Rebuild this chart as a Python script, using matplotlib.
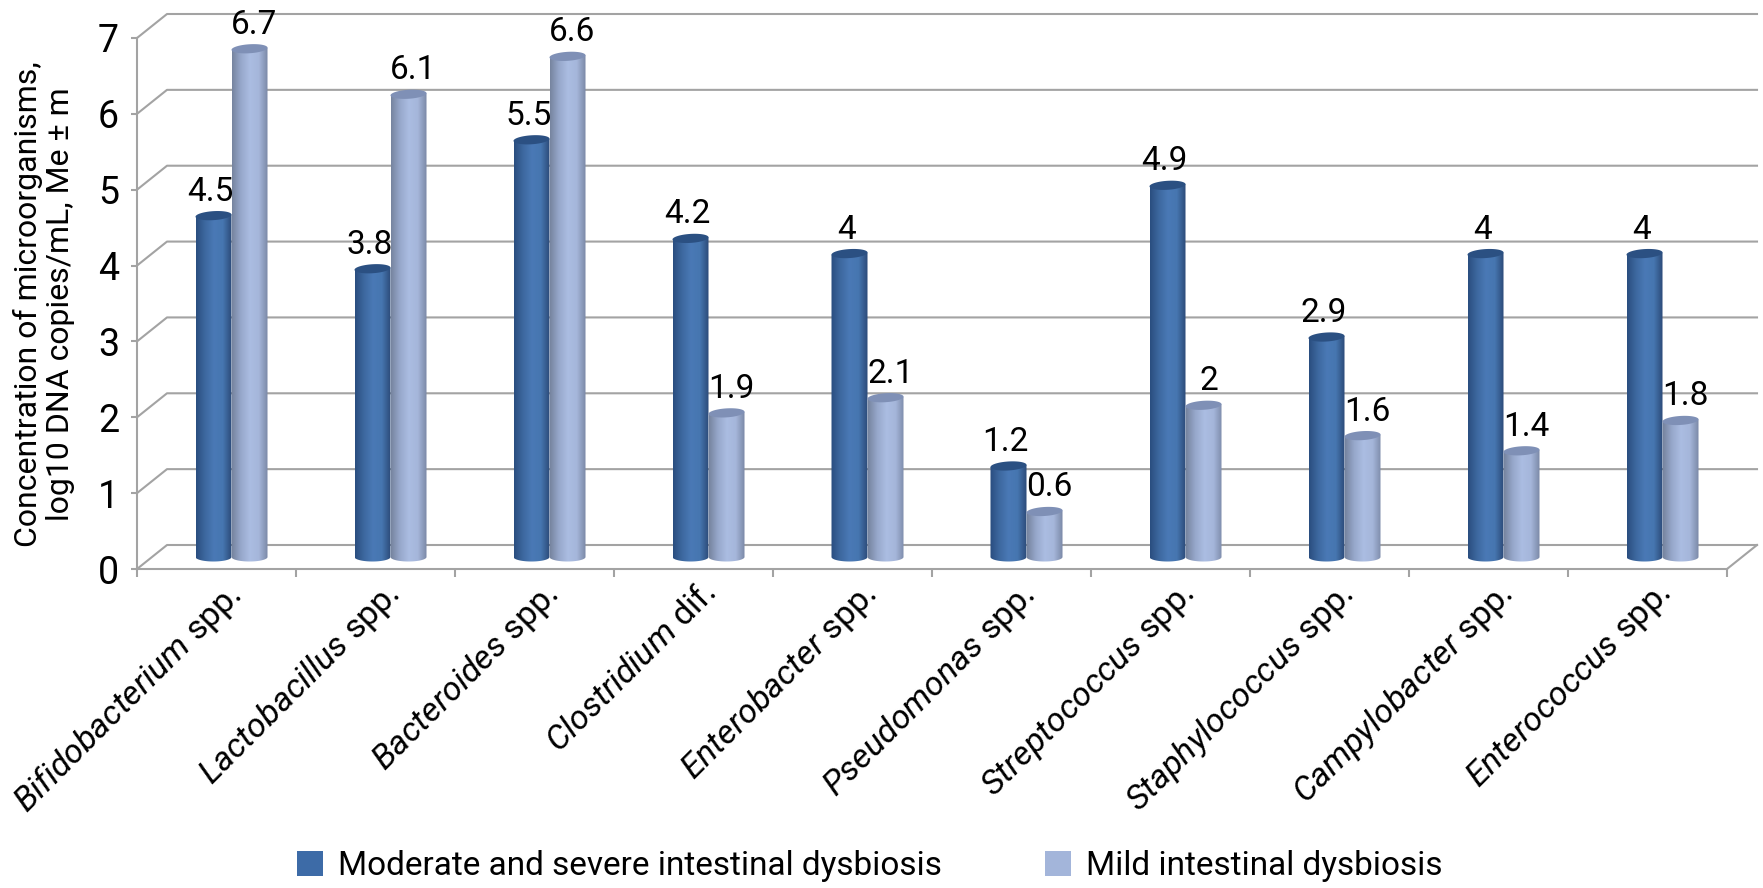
import numpy as np
import matplotlib
matplotlib.use('Agg')
import matplotlib.pyplot as plt
from matplotlib.colors import LinearSegmentedColormap
from matplotlib.patches import Polygon, Patch

categories = ['Bifidobacterium', 'Lactobacillus', 'Bacteroides', 'Clostridium', 'Enterobacter',
              'Pseudomonas', 'Streptococcus', 'Staphylococcus', 'Campylobacter', 'Enterococcus']
suffixes = ['spp.', 'spp.', 'spp.', 'dif.', 'spp.', 'spp.', 'spp.', 'spp.', 'spp.', 'spp.']
moderate = [4.5, 3.8, 5.5, 4.2, 4, 1.2, 4.9, 2.9, 4, 4]
mild = [6.7, 6.1, 6.6, 1.9, 2.1, 0.6, 2, 1.6, 1.4, 1.8]
moderate_labels = ['4.5', '3.8', '5.5', '4.2', '4', '1.2', '4.9', '2.9', '4', '4']
mild_labels = ['6.7', '6.1', '6.6', '1.9', '2.1', '0.6', '2', '1.6', '1.4', '1.8']
yticks = [0, 1, 2, 3, 4, 5, 6, 7]
series_names = ['Moderate and severe intestinal dysbiosis', 'Mild intestinal dysbiosis']

font = 'Roboto'
plt.rcParams['font.family'] = [font, 'DejaVu Sans']
plt.rcParams['mathtext.fontset'] = 'custom'
plt.rcParams['mathtext.it'] = font + ':italic'
plt.rcParams['mathtext.rm'] = font

GRID = '#a3a3a3'
W, H = 1763, 888
fig = plt.figure(figsize=(W / 100, H / 100), dpi=100, facecolor='white')
ax = fig.add_axes([137 / W, (H - 569) / H, 1590 / W, 531 / H])
ax.set_xlim(0, 10)
ax.set_ylim(0, 7)

# one category is 159 px wide, one unit on y is 75.9 px
px_x = 10 / 1590
px_y = 7 / 531
depth_x = 30 * px_x
depth_y = 24 * px_y

# walls of the fake 3d box
for v in yticks:
    ax.plot([0, depth_x, 10 + depth_x], [v, v + depth_y, v + depth_y],
            color=GRID, lw=1.5, clip_on=False, zorder=1)
ax.plot([10, 10 + depth_x], [0, depth_y], color=GRID, lw=1.5, clip_on=False, zorder=1)

dark_cmap = LinearSegmentedColormap.from_list('dark', ['#2a4d7f', '#3d689f', '#4a79b6', '#4676b0', '#2c4a78'])
light_cmap = LinearSegmentedColormap.from_list('light', ['#76849f', '#97a8cb', '#abbde2', '#a5b6da', '#7a88a6'])
gradient = np.linspace(0, 1, 128).reshape(1, -1)

bar_w = 36 * px_x
ell_a = bar_w / 2
ell_b = 4.5 * px_y
tilt = 0.06 * px_y / px_x
t = np.linspace(0, 2 * np.pi, 80)


def cylinder(center, value, cmap, top_color):
    x0 = center - ell_a
    x1 = center + ell_a
    base = depth_y / 2
    top = value + depth_y / 2
    ts = np.linspace(np.pi, 2 * np.pi, 40)
    outline = np.vstack([
        np.column_stack([center + ell_a * np.cos(ts), base + ell_b * np.sin(ts)]),
        [[x1, top + tilt * ell_a], [x0, top - tilt * ell_a]],
    ])
    im = ax.imshow(gradient, extent=[x0, x1, -0.2, top + 0.2], aspect='auto', cmap=cmap, zorder=3)
    clip = Polygon(outline, closed=True, transform=ax.transData)
    im.set_clip_path(clip)
    im.set_clip_on(True)
    cap = np.column_stack([center + ell_a * np.cos(t),
                           top + ell_b * np.sin(t) + tilt * ell_a * np.cos(t)])
    ax.add_patch(Polygon(cap, closed=True, facecolor=top_color, edgecolor='none', zorder=3.5, clip_on=False))


for i in range(len(categories)):
    center = i + 0.5 + depth_x / 2
    dark_x = center - bar_w / 2
    light_x = center + bar_w / 2
    cylinder(dark_x, moderate[i], dark_cmap, '#2b5082')
    cylinder(light_x, mild[i], light_cmap, '#7f90b6')
    ax.text(dark_x - 3 * px_x, moderate[i] + depth_y / 2 + 8 * px_y, moderate_labels[i],
            ha='center', va='bottom', fontsize=24, color='black', zorder=5, clip_on=False)
    ax.text(light_x + 5 * px_x, mild[i] + depth_y / 2 + 8 * px_y, mild_labels[i],
            ha='center', va='bottom', fontsize=24, color='black', zorder=5, clip_on=False)

ax.set_xlim(0, 10)
ax.set_ylim(0, 7)

for side in ['top', 'right']:
    ax.spines[side].set_visible(False)
for side in ['left', 'bottom']:
    ax.spines[side].set_color(GRID)
    ax.spines[side].set_linewidth(1.5)
    ax.spines[side].set_zorder(2)

ax.set_yticks(yticks)
ax.tick_params(axis='y', length=4, width=1.5, color=GRID, labelsize=27, pad=9)
ax.set_xticks(range(11))
ax.set_xticklabels([])
ax.tick_params(axis='x', which='major', length=6, width=1.5, color=GRID)

tick_labels = ['$\\mathit{%s}$ %s' % (c, s) for c, s in zip(categories, suffixes)]
ax.set_xticks(np.arange(10) + 0.54, tick_labels, minor=True)
ax.tick_params(axis='x', which='minor', length=0, labelsize=24.5, pad=6)
for lab in ax.get_xticklabels(minor=True):
    lab.set_rotation(45)
    lab.set_ha('right')
    lab.set_rotation_mode('anchor')

fig.text(44 / W, 1 - 304 / H, 'Concentration of microorganisms,\nlog10 DNA copies/mL, Me ± m',
         rotation=90, ha='center', va='center', fontsize=23, linespacing=1.15)

handles = [Patch(facecolor='#3d6ba7', edgecolor='none'), Patch(facecolor='#a3b5da', edgecolor='none')]
fig.legend(handles, series_names, loc='center', bbox_to_anchor=(870 / W, 1 - 866 / H), ncol=2, frameon=False,
           fontsize=24, handlelength=0.78, handleheight=0.78, handletextpad=0.45, columnspacing=3.1,
           borderpad=0, borderaxespad=0)

fig.savefig('out.png', dpi=100, facecolor='white')
